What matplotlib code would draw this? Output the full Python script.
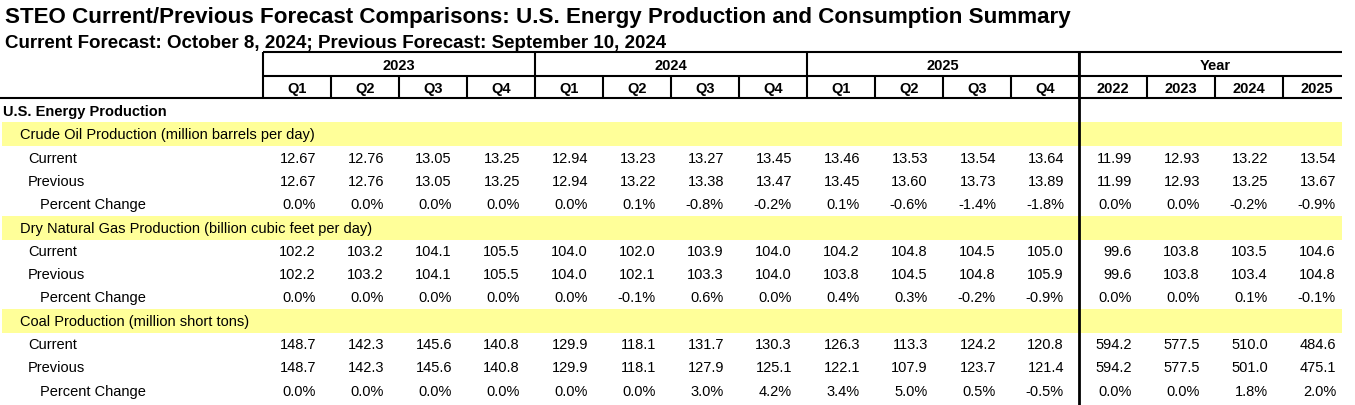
import matplotlib
matplotlib.use("Agg")
import matplotlib.pyplot as plt
from matplotlib.patches import Rectangle

plt.rcParams['font.family'] = ['Liberation Sans', 'DejaVu Sans']

title = "STEO Current/Previous Forecast Comparisons: U.S. Energy Production and Consumption Summary"
subtitle = "Current Forecast: October 8, 2024; Previous Forecast: September 10, 2024"
year_groups = ["2023", "2024", "2025", "Year"]
col_labels = ["Q1", "Q2", "Q3", "Q4", "Q1", "Q2", "Q3", "Q4", "Q1", "Q2", "Q3", "Q4",
              "2022", "2023", "2024", "2025"]
section = "U.S. Energy Production"
groups = ["Crude Oil Production (million barrels per day)",
          "Dry Natural Gas Production (billion cubic feet per day)",
          "Coal Production (million short tons)"]
row_names = ["Current", "Previous", "Percent Change"]

crude_current = [12.67, 12.76, 13.05, 13.25, 12.94, 13.23, 13.27, 13.45, 13.46, 13.53, 13.54, 13.64,
                 11.99, 12.93, 13.22, 13.54]
crude_previous = [12.67, 12.76, 13.05, 13.25, 12.94, 13.22, 13.38, 13.47, 13.45, 13.60, 13.73, 13.89,
                  11.99, 12.93, 13.25, 13.67]
crude_pct = [0.0, 0.0, 0.0, 0.0, 0.0, 0.1, -0.8, -0.2, 0.1, -0.6, -1.4, -1.8,
             0.0, 0.0, -0.2, -0.9]
gas_current = [102.2, 103.2, 104.1, 105.5, 104.0, 102.0, 103.9, 104.0, 104.2, 104.8, 104.5, 105.0,
               99.6, 103.8, 103.5, 104.6]
gas_previous = [102.2, 103.2, 104.1, 105.5, 104.0, 102.1, 103.3, 104.0, 103.8, 104.5, 104.8, 105.9,
                99.6, 103.8, 103.4, 104.8]
gas_pct = [0.0, 0.0, 0.0, 0.0, 0.0, -0.1, 0.6, 0.0, 0.4, 0.3, -0.2, -0.9,
           0.0, 0.0, 0.1, -0.1]
coal_current = [148.7, 142.3, 145.6, 140.8, 129.9, 118.1, 131.7, 130.3, 126.3, 113.3, 124.2, 120.8,
                594.2, 577.5, 510.0, 484.6]
coal_previous = [148.7, 142.3, 145.6, 140.8, 129.9, 118.1, 127.9, 125.1, 122.1, 107.9, 123.7, 121.4,
                 594.2, 577.5, 501.0, 475.1]
coal_pct = [0.0, 0.0, 0.0, 0.0, 0.0, 0.0, 3.0, 4.2, 3.4, 5.0, 0.5, -0.5,
            0.0, 0.0, 1.8, 2.0]

W, H = 1355, 406
fig = plt.figure(figsize=(W / 100, H / 100), dpi=100)
ax = fig.add_axes([0, 0, 1, 1])
ax.set_xlim(0, W)
ax.set_ylim(H, 0)
ax.axis("off")

# layout
x0 = 263
cw = 68
ncol = len(col_labels)
col_left = [x0 + i * cw for i in range(ncol)]
right_end = 1342
y_top, y_mid, y_bot = 53, 77, 99
row_h = 23.3
yellow = "#ffff99"
lw = 1.5
fs = 10.5

ax.text(5, 23, title, fontsize=16.1, fontweight="bold", va="baseline", ha="left")
ax.text(5, 48.5, subtitle, fontsize=13.5, fontweight="bold", va="baseline", ha="left")

# header lines
ax.plot([x0, right_end], [y_top, y_top], color="black", lw=lw, solid_capstyle="butt")
ax.plot([x0, right_end], [y_mid, y_mid], color="black", lw=lw, solid_capstyle="butt")
ax.plot([0, right_end], [y_bot, y_bot], color="black", lw=lw, solid_capstyle="butt")
for i in range(ncol):
    xl = col_left[i]
    if i % 4 == 0:
        ax.plot([xl, xl], [y_top, y_bot], color="black", lw=lw, solid_capstyle="butt")
    else:
        ax.plot([xl, xl], [y_mid, y_bot], color="black", lw=lw, solid_capstyle="butt")
for g, name in enumerate(year_groups):
    xc = col_left[g * 4] + 2 * cw
    ax.text(xc, (y_top + y_mid) / 2 + 1, name, fontsize=fs, fontweight="bold", ha="center", va="center")
for i, lab in enumerate(col_labels):
    ax.text(col_left[i] + cw / 2, (y_mid + y_bot) / 2 + 1, lab, fontsize=fs, fontweight="bold",
            ha="center", va="center")

# body
y = 112
ax.text(3, y, section, fontsize=fs, fontweight="bold", va="center", ha="left")
series = [(crude_current, crude_previous, crude_pct, "{:.2f}"),
          (gas_current, gas_previous, gas_pct, "{:.1f}"),
          (coal_current, coal_previous, coal_pct, "{:.1f}")]
for gname, (cur, prev, pct, fmt) in zip(groups, series):
    y += row_h
    ax.add_patch(Rectangle((2, y - 12), right_end - 2, 24, facecolor=yellow, edgecolor="none", zorder=0))
    ax.text(20, y, gname, fontsize=fs, va="center", ha="left")
    for rname, vals, f, indent in [(row_names[0], cur, fmt, 28), (row_names[1], prev, fmt, 28),
                                    (row_names[2], pct, "{:.1f}%", 40)]:
        y += row_h
        ax.text(indent, y, rname, fontsize=fs, va="center", ha="left")
        for i, v in enumerate(vals):
            ax.text(col_left[i] + cw - 15, y, f.format(v), fontsize=fs, va="center", ha="right")

# thick separator before annual columns
xs = col_left[12]
ax.plot([xs, xs], [y_top, H], color="black", lw=2.0, solid_capstyle="butt", zorder=3)

fig.savefig("out.png", dpi=100)
